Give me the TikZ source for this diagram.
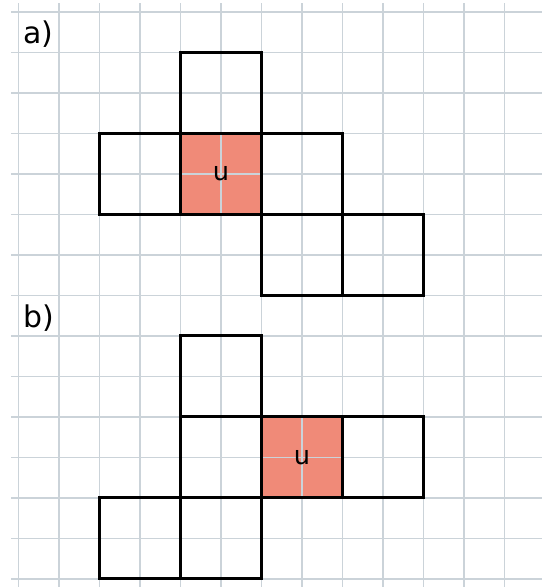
\documentclass[tikz,border=0pt]{standalone}
\usepackage{fontspec}
\setmainfont{DejaVu Sans}
\usepackage{xcolor}
\definecolor{gridGrey}{HTML}{CBD3D9}
\definecolor{cellRed}{HTML}{F08A78}
\usepackage{tikz}
\usetikzlibrary{positioning}

\begin{document}
\begin{tikzpicture}[x=0.5cm,y=0.5cm,
      every node/.style={font=\fontsize{9}{11}\selectfont},
      gridline/.style={draw=gridGrey,line width=0.55pt},
      cell/.style={rectangle,draw=black,line width=1.05pt,minimum size=1cm,
                   inner sep=0pt,outer sep=0pt},
      ucell/.style={cell,fill=cellRed,
                    path picture={\draw[gridline]
                      (path picture bounding box.north) -- (path picture bounding box.south)
                      (path picture bounding box.west) -- (path picture bounding box.east);}},
      tag/.style={anchor=west,inner sep=0pt,font=\fontsize{10.5}{12}\selectfont},
      node distance=0pt,
    ]
    \useasboundingbox (-0.457,-0.198) rectangle (13.025,14.296);

    % --- Squared paper ---
    \foreach \y in {0,...,14}
      \draw[gridline] (-0.185,\y) -- (12.93,\y);
    \foreach \x in {0,...,12}
      \draw[gridline] (\x,-0.25) -- (\x,14.22);

    % --- Figure a) ---
    \node[tag] (taga) at (0.11,13.45) {a)};
    \node[ucell] (ua) at (5,10) {u};
    \node[cell,above=of ua] (a1) {};
    \node[cell,left=of ua] (a2) {};
    \node[cell,right=of ua] (a3) {};
    \node[cell,below=of a3] (a4) {};
    \node[cell,right=of a4] (a5) {};

    % --- Figure b) ---
    \node[tag] (tagb) at (0.11,6.45) {b)};
    \node[ucell] (ub) at (7,3) {u};
    \node[cell,left=of ub] (b1) {};
    \node[cell,above=of b1] (b2) {};
    \node[cell,right=of ub] (b3) {};
    \node[cell,below=of b1] (b4) {};
    \node[cell,left=of b4] (b5) {};

  \end{tikzpicture}
\end{document}
